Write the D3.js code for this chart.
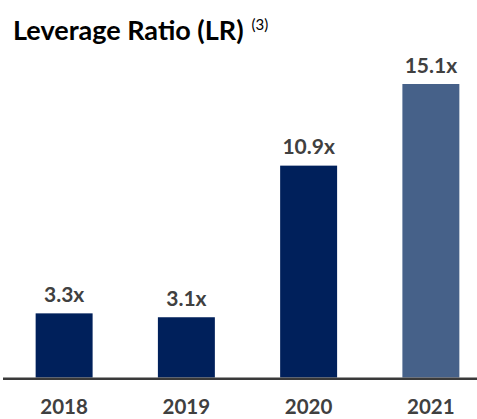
<!DOCTYPE html>
<html><head><meta charset="utf-8">
<script src="https://cdn.jsdelivr.net/npm/d3@7/dist/d3.min.js"></script>
<style>body{margin:0;background:#fff}svg{display:block}</style>
</head><body>
<script>
const categories = ["2018", "2019", "2020", "2021"];
const values = [3.3, 3.1, 10.9, 15.1];
const valueLabels = ["3.3x", "3.1x", "10.9x", "15.1x"];
const barColors = ["#00205B", "#00205B", "#00205B", "#466189"];

const W = 477, H = 419;
const svg = d3.select("body").append("svg").attr("width", W).attr("height", H);
const baseY = 377.5;
const x = d3.scaleBand().domain(categories).range([3, 492]).paddingInner(0.534).paddingOuter(0.267);
const y = d3.scaleLinear().domain([0, 15.1]).range([baseY, 84]);
const font = "Lato, 'Open Sans', sans-serif";

svg.append("text").attr("x", 13).attr("y", 40)
  .attr("font-family", font).attr("font-weight", 700).attr("font-size", 27).attr("fill", "#000")
  .text("Leverage Ratio (LR)")
  .append("tspan").attr("dx", 8).attr("dy", -10).attr("font-weight", 400).attr("font-size", 15).text("(3)");

svg.selectAll("rect.bar").data(values).join("rect").attr("class", "bar")
  .attr("x", (d, i) => x(categories[i]))
  .attr("width", x.bandwidth())
  .attr("y", d => y(d))
  .attr("height", d => y(0) - y(d))
  .attr("fill", (d, i) => barColors[i]);

svg.selectAll("text.val").data(values).join("text").attr("class", "val")
  .attr("x", (d, i) => x(categories[i]) + x.bandwidth() / 2)
  .attr("y", d => y(d) - 11.5)
  .attr("text-anchor", "middle")
  .attr("font-family", font).attr("font-weight", 700).attr("font-size", 21).attr("fill", "#404040")
  .text((d, i) => valueLabels[i]);

const axis = d3.axisBottom(x).tickSize(0).tickPadding(0);
const g = svg.append("g").attr("transform", `translate(0,${baseY})`).call(axis);
g.select(".domain").remove();
g.append("line").attr("x1", 3).attr("x2", W).attr("y1", 1.2).attr("y2", 1.2).attr("stroke", "#3a3a3a").attr("stroke-width", 2.5);
g.selectAll(".tick text").attr("y", 0).attr("dy", 36.5)
  .attr("font-family", font).attr("font-weight", 700).attr("font-size", 20.5).attr("fill", "#404040");
</script>
</body></html>
